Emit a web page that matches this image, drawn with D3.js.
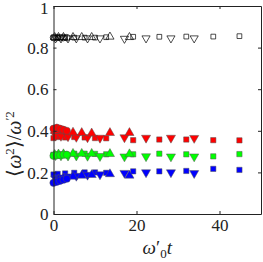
<!DOCTYPE html>
<html>
<head>
<meta charset="utf-8">
<script src="https://cdn.jsdelivr.net/npm/d3@7"></script>
<style>
  body { margin: 0; background: #fff; }
  svg { display: block; }
</style>
</head>
<body>
<div id="chart"></div>
<script>
// times for each marker family
const tCircle = [0, 0.8, 1.6, 2.4, 3.2];
const tUp = [0.3, 1.2, 2.4, 4.7, 6.8, 9.2, 13.6, 18.3];
const tDown = [0.5, 1.8, 3.5, 5.5, 8.2, 11.2, 17.1, 22.3, 28.3, 33.9];
const tSquare = [0, 1, 2.8, 5, 7.5, 10, 12.7, 19.2, 25.5, 32, 38.5, 44.8];

// black (hollow) series
const blackCircle = [0.848, 0.848, 0.848, 0.848, 0.848];
const blackUp = [0.85, 0.85, 0.85, 0.85, 0.85, 0.85, 0.852, 0.85];
const blackDown = [0.845, 0.845, 0.845, 0.845, 0.845, 0.845, 0.843, 0.845, 0.845, 0.845];
const blackSquare = [0.848, 0.848, 0.848, 0.848, 0.848, 0.848, 0.85, 0.852, 0.852, 0.853, 0.853, 0.855];

// red series
const redCircle = [0.41, 0.415, 0.41, 0.405, 0.40];
const redUp = [0.40, 0.40, 0.398, 0.392, 0.39, 0.388, 0.39, 0.39];
const redDown = [0.378, 0.375, 0.373, 0.37, 0.368, 0.366, 0.368, 0.366, 0.366, 0.365];
const redSquare = [0.365, 0.37, 0.368, 0.37, 0.368, 0.365, 0.364, 0.355, 0.358, 0.358, 0.355, 0.354];

// green series
const greenCircle = [0.28, 0.282, 0.283, 0.285, 0.285];
const greenUp = [0.285, 0.287, 0.288, 0.29, 0.29, 0.29, 0.289, 0.288];
const greenDown = [0.282, 0.281, 0.28, 0.28, 0.279, 0.278, 0.276, 0.277, 0.276, 0.276];
const greenSquare = [0.285, 0.287, 0.288, 0.29, 0.29, 0.289, 0.287, 0.287, 0.29, 0.287, 0.277, 0.288];

// blue series
const blueCircle = [0.15, 0.155, 0.16, 0.165, 0.17];
const blueUp = [0.16, 0.165, 0.172, 0.18, 0.185, 0.188, 0.192, 0.185];
const blueDown = [0.17, 0.175, 0.18, 0.183, 0.188, 0.19, 0.197, 0.2, 0.2, 0.196];
const blueSquare = [0.19, 0.193, 0.195, 0.198, 0.2, 0.2, 0.198, 0.205, 0.205, 0.207, 0.217, 0.212];

const xTicks = [0, 20, 40];
const yTicks = [0, 0.2, 0.4, 0.6, 0.8, 1];

const W = 263, H = 262;
const serif = "'Liberation Serif', 'Times New Roman', serif";

const svg = d3.select("#chart").append("svg")
    .attr("width", W)
    .attr("height", H);

const x = d3.scaleLinear().domain([0, 50]).range([53.5, 261]);
const y = d3.scaleLinear().domain([0, 1]).range([214, 6]);

// =========================
// MARKERS
// =========================
const groups = [
    { fill: "none", stroke: "#000", c: blackCircle, u: blackUp, d: blackDown, s: blackSquare, hollow: true },
    { fill: "#ff0000", stroke: "#555", c: redCircle, u: redUp, d: redDown, s: redSquare },
    { fill: "#00ff00", stroke: "#555", c: greenCircle, u: greenUp, d: greenDown, s: greenSquare },
    { fill: "#0000ff", stroke: "#555", c: blueCircle, u: blueUp, d: blueDown, s: blueSquare }
];

const plot = svg.append("g");

function drawSet(times, vals, type, g, size, rot) {
    const sym = d3.symbol().type(type).size(size);
    plot.append("g").selectAll("path")
        .data(times.map((t, i) => ({ t, v: vals[i] })))
        .enter()
        .append("path")
        .attr("d", sym)
        .attr("transform", d => `translate(${x(d.t)},${y(d.v)}) rotate(${rot})`)
        .attr("fill", g.fill)
        .attr("stroke", g.stroke)
        .attr("stroke-width", g.hollow ? 0.7 : 0.5);
}

groups.forEach(g => {
    const k = g.hollow ? 0.8 : 1;
    drawSet(tSquare, g.s, d3.symbolSquare, g, 28 * k, 0);
    drawSet(tDown, g.d, d3.symbolTriangle, g, 36 * k, 180);
    drawSet(tUp, g.u, d3.symbolTriangle, g, 36 * k, 0);
    drawSet(tCircle, g.c, d3.symbolCircle, g, 42 * k, 0);
});

// =========================
// AXES (MATLAB box, inward ticks)
// =========================
const xAxis = svg.append("g")
    .attr("transform", `translate(0,${y(0)})`)
    .call(d3.axisBottom(x).tickValues(xTicks).tickFormat(d => d)
        .tickSizeInner(-3).tickSizeOuter(0).tickPadding(5));

const yAxis = svg.append("g")
    .attr("transform", `translate(${x(0)},0)`)
    .call(d3.axisLeft(y).tickValues(yTicks).tickFormat(d => d)
        .tickSizeInner(-3).tickSizeOuter(0).tickPadding(5));
// top label sits a touch lower so it stays inside the frame
yAxis.selectAll("text").attr("dy", d => d === 1 ? "0.42em" : "0.34em");

[xAxis, yAxis].forEach(a => a.attr("font-family", null).attr("font-size", null)
    .selectAll("text")
    .style("font-family", serif)
    .style("font-size", "17px")
    .attr("fill", "#222"));

svg.append("g")
    .attr("transform", `translate(0,${y(1)})`)
    .call(d3.axisTop(x).tickValues(xTicks).tickFormat("").tickSizeInner(-3).tickSizeOuter(0));

svg.append("g")
    .attr("transform", `translate(${x(50)},0)`)
    .call(d3.axisRight(y).tickValues(yTicks).tickFormat("").tickSizeInner(-3).tickSizeOuter(0));

svg.selectAll(".domain").attr("stroke", "#222").attr("stroke-width", 1);
svg.selectAll(".tick line").attr("stroke", "#222");

// =========================
// LABELS
// =========================
const xl = svg.append("text")
    .attr("x", (x(0) + x(50)) / 2)
    .attr("y", 254)
    .attr("text-anchor", "middle")
    .style("font-family", serif)
    .style("font-size", "19px")
    .attr("fill", "#222");
xl.append("tspan").style("font-style", "italic").text("ω");
xl.append("tspan").text("′");
xl.append("tspan").attr("dy", 4).style("font-size", "13px").text("0");
xl.append("tspan").attr("dy", -4).style("font-style", "italic").text("t");

const yl = svg.append("text")
    .attr("transform", `translate(21,${(y(0) + y(1)) / 2 + 34}) rotate(-90)`)
    .attr("text-anchor", "middle")
    .style("font-family", serif)
    .style("font-size", "20px")
    .attr("fill", "#222");
yl.append("tspan").text("⟨");
yl.append("tspan").style("font-style", "italic").text("ω");
yl.append("tspan").attr("dy", -7).style("font-size", "13px").text("2");
yl.append("tspan").attr("dy", 7).text("⟩/");
yl.append("tspan").style("font-style", "italic").text("ω");
yl.append("tspan").attr("dy", -7).style("font-size", "13px").text("′2");
</script>
</body>
</html>
